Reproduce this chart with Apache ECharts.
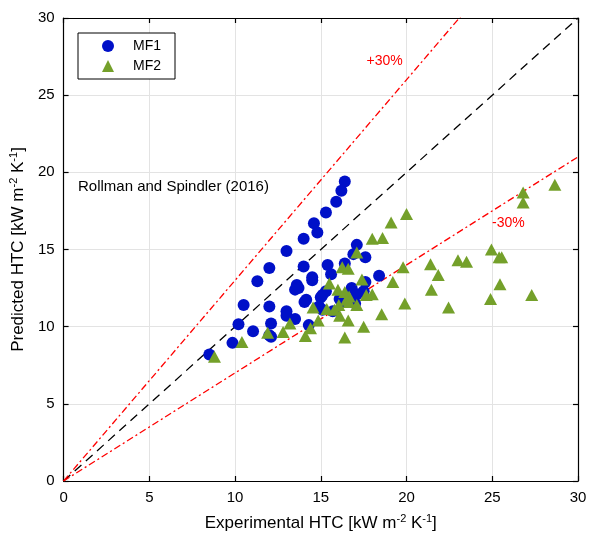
<!DOCTYPE html>
<html>
<head>
<meta charset="utf-8">
<script src="https://cdn.jsdelivr.net/npm/echarts@6/dist/echarts.min.js"></script>
<style>html,body{margin:0;padding:0;background:#fff}#c{width:590px;height:539px}</style>
</head>
<body>
<div id="c"></div>
<script>
// MF1 (blue circles): [experimental, predicted]
const mf1 = [
  [16.4,19.4],[16.2,18.8],[15.9,18.1],[15.3,17.4],[14.6,16.7],[14.8,16.1],[14.0,15.7],[13.0,14.9],
  [17.1,15.3],[16.9,14.7],[17.6,14.5],[16.4,14.1],[15.4,14.0],[15.6,13.4],[14.0,13.9],[12.0,13.8],
  [14.5,13.2],[14.5,13.0],[11.3,12.95],[13.6,12.7],[13.7,12.5],[13.5,12.4],[18.4,13.3],[17.6,12.9],
  [16.8,12.5],[15.3,12.3],[15.0,11.9],[15.1,12.05],[17.5,12.3],[17.1,12.1],[14.05,11.6],[14.15,11.75],
  [10.5,11.4],[12.0,11.3],[13.0,11.0],[13.0,10.7],[13.5,10.5],[16.1,11.8],[16.3,11.6],[17.0,11.5],
  [14.9,11.3],[15.1,11.1],[15.7,11.0],[10.2,10.15],[11.05,9.7],[12.1,10.2],[12.0,9.45],[12.1,9.35],
  [14.3,10.1],[9.85,8.95],[8.5,8.2]
];
// MF2 (green triangles)
const mf2 = [
  [8.8,8.05],[10.4,9.0],[11.9,9.6],[12.8,9.65],[13.2,10.2],[14.1,9.4],[14.4,9.9],[14.85,10.4],
  [14.55,11.25],[15.5,12.8],[16.0,12.4],[16.4,12.25],[15.35,11.15],[15.8,11.1],[16.05,11.4],[16.1,10.7],
  [16.4,9.3],[16.6,10.4],[16.65,11.95],[16.5,11.75],[16.65,11.6],[17.1,11.4],[17.5,10.0],[17.1,14.8],
  [16.25,13.85],[16.6,13.75],[17.4,13.05],[17.65,12.05],[18.0,12.1],[18.0,15.7],[18.6,15.75],[19.1,16.75],
  [20.0,17.3],[19.8,13.85],[19.2,12.9],[19.9,11.5],[18.55,10.8],[21.4,14.05],[21.85,13.35],[21.45,12.4],
  [22.45,11.25],[23.0,14.3],[23.5,14.2],[24.95,15.0],[25.4,14.5],[25.55,14.5],[25.45,12.75],[24.9,11.8],
  [27.3,12.05],[26.8,18.7],[26.8,18.05],[28.65,19.2]
];
const perfectLine = [[0,0],[30,30]];
const plus30Line = [[0,0],[30,39]];
const minus30Line = [[0,0],[30,21]];
const annotations = [
  {value:[18.75,27.15], text:'+30%'},
  {value:[25.97,16.65], text:'-30%'}
];
const sourceNote = [{value:[0.87,19.0], text:'Rollman and Spindler (2016)'}];

const FONT = 'Liberation Sans, Arial, sans-serif';
const chart = echarts.init(document.getElementById('c'), null, {renderer:'canvas'});

function axisBase(pos, show){
  return {
    type:'value', min:0, max:30, interval:5, position:pos,
    axisLine:{show:true, onZero:false, lineStyle:{color:'#000', width:1.2}},
    axisTick:{show:true, inside:true, length:5, lineStyle:{color:'#000', width:1.2}},
    axisLabel:{show:show, color:'#000', fontSize:15, fontFamily:FONT, margin:9},
    splitLine:{show:show, lineStyle:{color:'#e3e3e3', width:1}}
  };
}
const richName = {
  a:{fontSize:17, fontFamily:FONT, color:'#000'},
  s:{fontSize:11, fontFamily:FONT, color:'#000', verticalAlign:'top', padding:[0,0,10,0]}
};

const xMain = axisBase('bottom', true);
xMain.name = '{a|Experimental HTC [kW m}{s|-2}{a| K}{s|-1}{a|]}';
xMain.nameLocation = 'middle'; xMain.nameGap = 32;
xMain.nameTextStyle = {rich:richName};
const yMain = axisBase('left', true);
yMain.name = '{a|Predicted HTC [kW m}{s|-2}{a| K}{s|-1}{a|]}';
yMain.nameLocation = 'middle'; yMain.nameGap = 26;
yMain.nameTextStyle = {rich:richName};
const xTop = axisBase('top', false);
const yRight = axisBase('right', false);

function textSeries(data, color, align, size){
  return {
    type:'scatter', xAxisIndex:0, yAxisIndex:0, symbolSize:1, silent:true,
    itemStyle:{color:'rgba(0,0,0,0)'},
    data:data.map(d=>({value:d.value, label:{formatter:d.text}})),
    label:{show:true, position:[0,0], color:color, fontSize:size, fontFamily:FONT,
      align:align, verticalAlign:'middle', textBorderWidth:0, opacity:1},
    emphasis:{disabled:true},
    z:5
  };
}

chart.setOption({
  backgroundColor:'#fff',
  animation:false,
  grid:{left:63, right:12, top:18, bottom:58, containLabel:false},
  xAxis:[xMain, xTop],
  yAxis:[yMain, yRight],
  legend:{
    data:['MF1','MF2'], orient:'vertical', left:78, top:33,
    backgroundColor:'#fff', borderColor:'#000', borderWidth:1, borderRadius:0,
    padding:[6,14,6,24], itemGap:6, itemWidth:12, itemHeight:12,
    textStyle:{fontSize:14, fontFamily:FONT, color:'#000', padding:[0,0,0,14]}
  },
  series:[
    {type:'line', data:perfectLine, symbol:'none', silent:true, clip:true,
      lineStyle:{color:'#000', width:1.3, type:[9,6]}, z:2},
    {type:'line', data:plus30Line, symbol:'none', silent:true, clip:true,
      lineStyle:{color:'#ff0000', width:1.3, type:[7,3,2,3]}, z:2},
    {type:'line', data:minus30Line, symbol:'none', silent:true, clip:true,
      lineStyle:{color:'#ff0000', width:1.3, type:[7,3,2,3]}, z:2},
    {name:'MF1', type:'scatter', data:mf1, symbol:'circle', symbolSize:12,
      itemStyle:{color:'#0010c8', opacity:1}, z:3},
    {name:'MF2', type:'scatter', data:mf2, symbol:'triangle', symbolSize:[13,12],
      itemStyle:{color:'#74a02a', opacity:1}, z:4},
    textSeries(annotations, '#ff0000', 'center', 14),
    textSeries(sourceNote, '#000000', 'left', 15)
  ]
});
</script>
</body>
</html>
